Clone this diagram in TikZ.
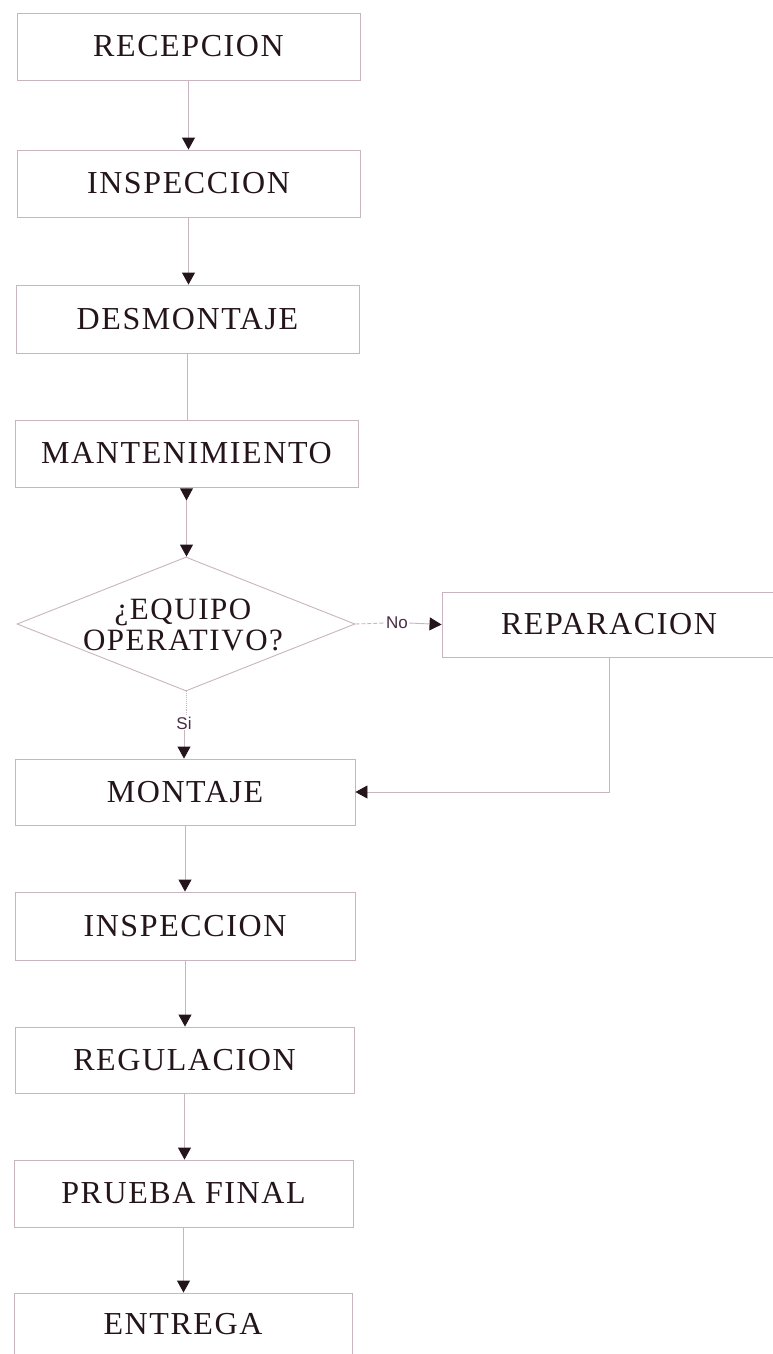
\documentclass[tikz,border=0pt]{standalone}
\usepackage{fontspec}
\usetikzlibrary{arrows.meta,shapes.geometric,calc}
\newfontfamily\boxfont[LetterSpace=5]{Liberation Serif}
\newfontfamily\lblfont{Liberation Sans}
\definecolor{linec}{HTML}{C9B4BF}
\definecolor{txtc}{HTML}{24141B}
\definecolor{arrc}{HTML}{23151B}
\definecolor{lblc}{HTML}{4A2C44}
\begin{document}
\begin{tikzpicture}[x=1pt,y=-1pt,
  box/.style={draw=linec, line width=0.9pt, rectangle, inner sep=0pt,
    minimum height=67pt, text=txtc, font=\boxfont\fontsize{32}{36}\selectfont},
  decision/.style={draw=linec, line width=0.9pt, diamond, inner sep=0pt,
    minimum width=338pt, minimum height=134pt},
  dtext/.style={text=txtc, align=center, inner sep=0pt,
    font=\boxfont\fontsize{31}{31}\selectfont},
  lbl/.style={text=lblc, inner sep=1pt, font=\lblfont\fontsize{17}{19}\selectfont},
  conn/.style={draw=linec, line width=0.9pt},
  arr/.style={conn, -{Triangle[width=13pt,length=12pt,color=arrc,fill=arrc]}}]
\useasboundingbox (0,0) rectangle (773,1354);
\fill[white] (0,0) rectangle (773,1354);

% main column of steps
\node[box, minimum width=343pt] (rec)   at (188.5,46.5)  {RECEPCION};
\node[box, minimum width=343pt] (insp1) at (188.5,183.5) {INSPECCION};
\node[box, minimum width=343pt, minimum height=68pt] (desm) at (187.5,319) {DESMONTAJE};
\node[box, minimum width=343pt] (mant)  at (186.5,453.5) {MANTENIMIENTO};

% decision
\node[decision] (dec) at (186,624) {};
\node[dtext] (dectext) at (183,625) {¿EQUIPO\\OPERATIVO?};

% repair branch
\node[box, minimum width=334pt, minimum height=65pt] (rep) at (609,624.5) {REPARACION};
\node[lbl] (no) at (397,623) {No};
\node[lbl] (si) at (184,723) {Si};

\node[box, minimum width=340pt, minimum height=66pt] (mont) at (185,792) {MONTAJE};
\node[box, minimum width=340pt, minimum height=68pt] (insp2) at (185,926) {INSPECCION};
\node[box, minimum width=339pt, minimum height=66pt] (reg) at (184.5,1060) {REGULACION};
\node[box, minimum width=339pt] (prue) at (183.5,1193.5) {PRUEBA FINAL};
\node[box, minimum width=338pt, minimum height=63pt] (ent) at (183,1324.5) {ENTREGA};

% connectors
\draw[arr] (rec.south) -- (rec.south |- insp1.north);
\draw[arr] (insp1.south) -- (insp1.south |- desm.north);
\draw[conn] (desm.south) -- (desm.south |- mant.north);
\draw[arr] (mant.south) -- (mant.south |- dec.north);
\fill[arrc] ($(mant.south)+(-6.5,1)$) -- ($(mant.south)+(6.5,1)$) -- ($(mant.south)+(0,13)$) -- cycle;

\draw[conn, dash pattern=on 4pt off 2pt] (dec.east) -- (no.west);
\draw[arr] (no.east) -- (rep.west);
\draw[conn, densely dotted] (dec.south) -- (dec.south |- si.north);
\draw[arr] (si.south) -- (si.south |- mont.north);
\draw[arr] (rep.south) |- (mont.east);

\draw[arr] (mont.south) -- (mont.south |- insp2.north);
\draw[arr] (insp2.south) -- (insp2.south |- reg.north);
\draw[arr] (reg.south) -- (reg.south |- prue.north);
\draw[arr] (prue.south) -- (prue.south |- ent.north);
\end{tikzpicture}
\end{document}
